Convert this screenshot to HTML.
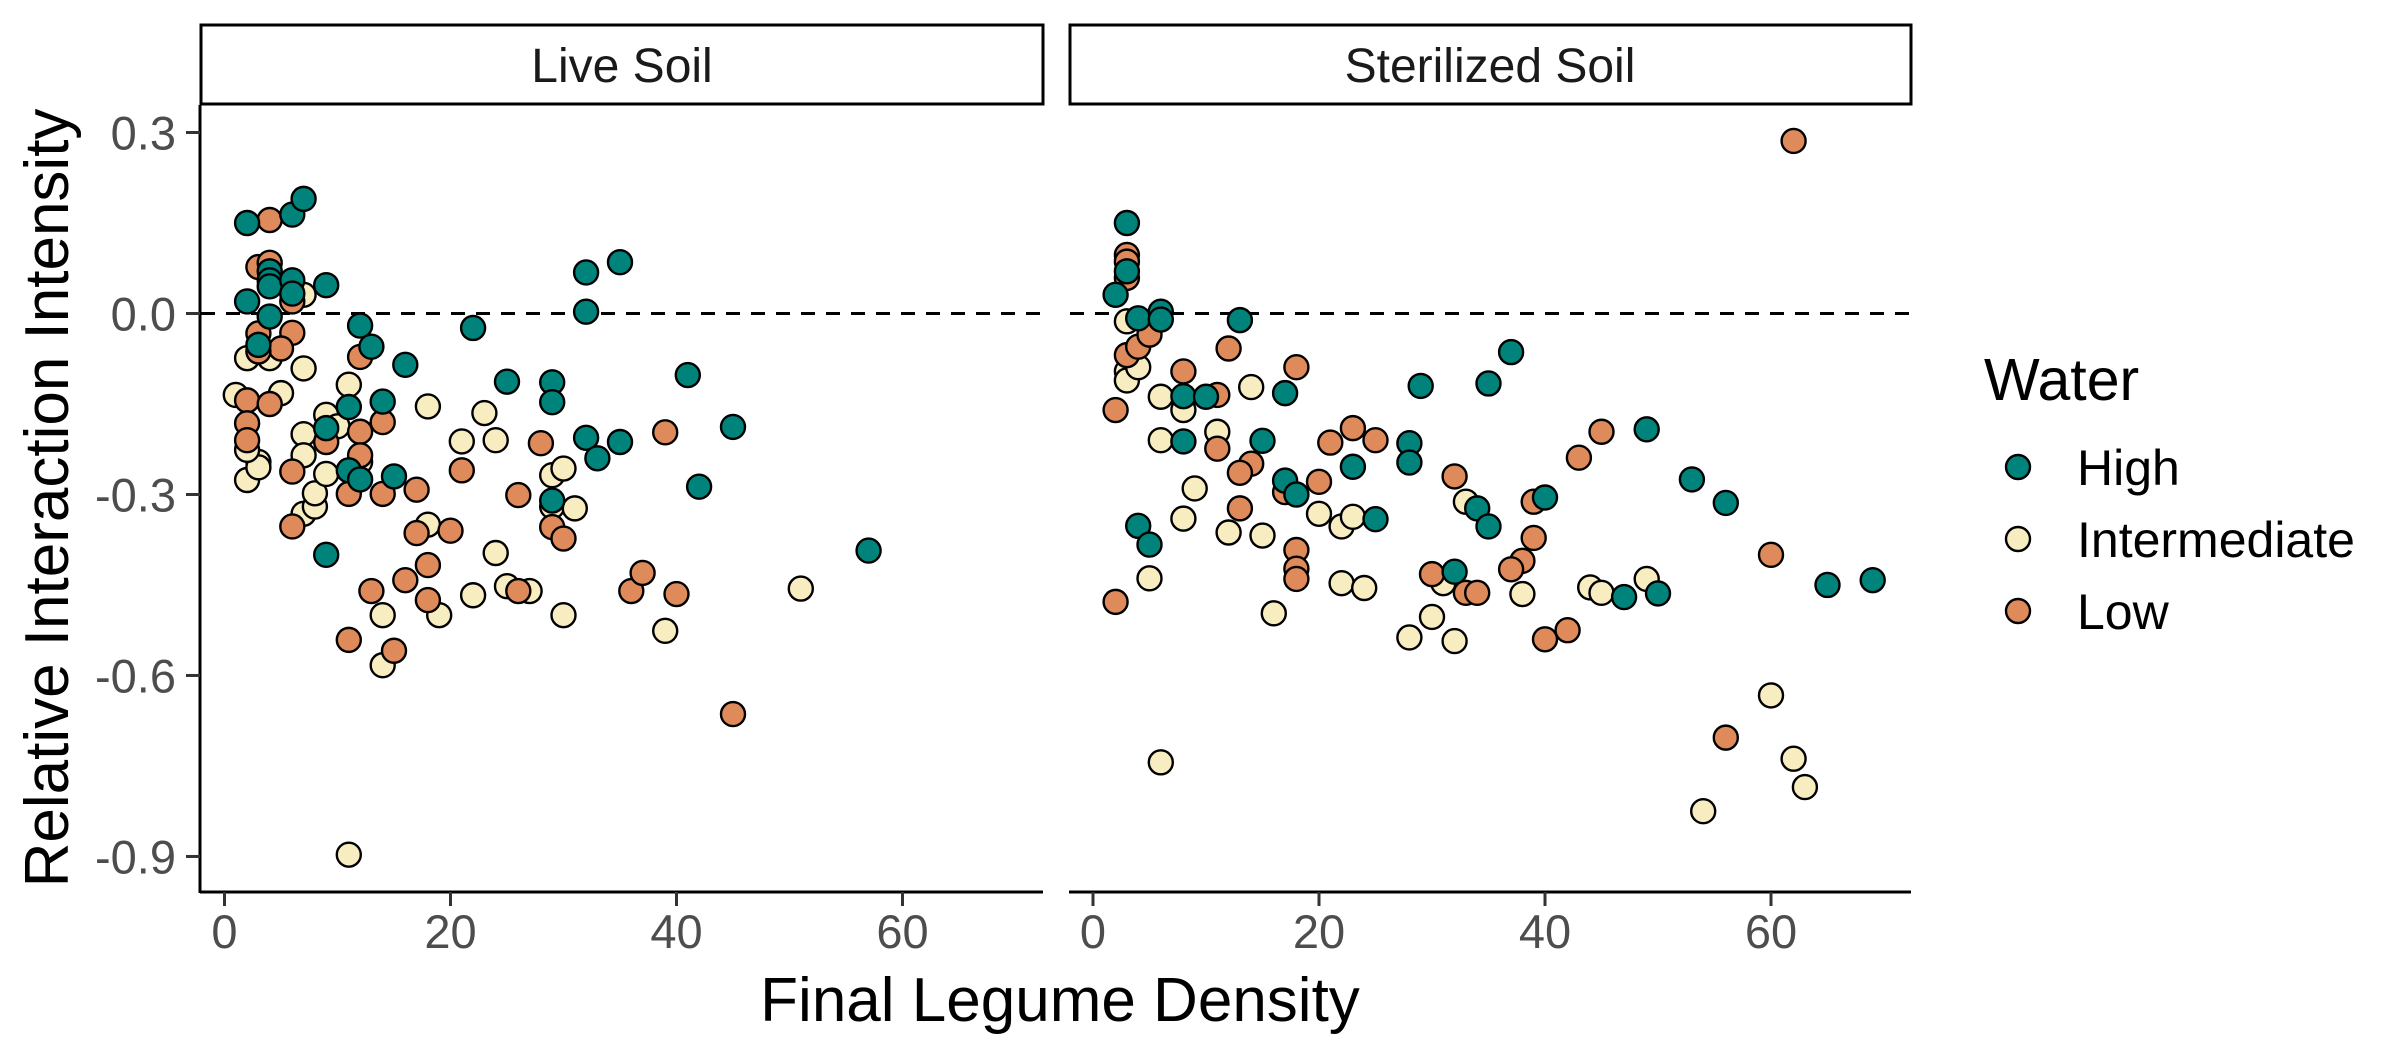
<!DOCTYPE html>
<html><head><meta charset="utf-8">
<style>
html,body{margin:0;padding:0;background:#fff;}
svg{display:block;font-family:"Liberation Sans",Arial,sans-serif;}
</style></head>
<body>
<svg id="chart" width="2400" height="1050" viewBox="0 0 2400 1050" xmlns="http://www.w3.org/2000/svg">
  <rect x="0" y="0" width="2400" height="1050" fill="#fff"/>
  <g>
    <rect x="201" y="25" width="842" height="79" fill="#fff" stroke="#000" stroke-width="3"/>
    <text x="622" y="82" font-size="48" text-anchor="middle" fill="#1a1a1a">Live Soil</text>
  </g>
  <g>
    <rect x="1070" y="25" width="841" height="79" fill="#fff" stroke="#000" stroke-width="3"/>
    <text x="1490" y="82" font-size="48" text-anchor="middle" fill="#1a1a1a">Sterilized Soil</text>
  </g>
  <g id="axes"></g>
  <g id="points"></g>
  <text transform="translate(68,498) rotate(-90)" font-size="62" text-anchor="middle" fill="#000">Relative Interaction Intensity</text>
  <text x="1060" y="1021" font-size="62" text-anchor="middle" fill="#000">Final Legume Density</text>
  <g>
    <text x="1984" y="400" font-size="59" fill="#000">Water</text>
    <g id="legend-keys"></g>
  </g>
</svg>
<script>
const categories = ["High","Intermediate","Low"];
const colors = ["#00837B","#F8EDC0","#DE8A5A"];
const yTicks = [0.3,0.0,-0.3,-0.6,-0.9];
const yTickLabels = ["0.3","0.0","-0.3","-0.6","-0.9"];
const xTicks = [0,20,40,60];
const xTickLabels = ["0","20","40","60"];

const liveHighX = [2,6,7,2,4,4,4,4,6,6,9,3,12,13,16,22,25,29,29,32,32,35,32,35,33,41,45,42,57,9,11,11,12,14,15,9,29];
const liveHighY = [0.15,0.164,0.19,0.02,0.07,0.055,0.045,-0.005,0.055,0.033,0.047,-0.052,-0.02,-0.055,-0.085,-0.024,-0.113,-0.114,-0.147,0.068,0.003,0.085,-0.206,-0.213,-0.24,-0.102,-0.188,-0.287,-0.393,-0.40,-0.155,-0.26,-0.275,-0.146,-0.27,-0.19,-0.31];
const liveLowX = [4,3,4,6,6,3,5,3,2,4,2,2,6,6,9,12,12,12,14,11,14,17,17,20,18,18,16,13,11,15,21,26,28,29,30,39,36,37,40,45,26];
const liveLowY = [0.155,0.077,0.084,0.02,-0.032,-0.033,-0.058,-0.063,-0.144,-0.15,-0.182,-0.21,-0.262,-0.353,-0.213,-0.072,-0.196,-0.235,-0.18,-0.299,-0.299,-0.292,-0.364,-0.36,-0.417,-0.475,-0.442,-0.46,-0.541,-0.559,-0.26,-0.301,-0.215,-0.354,-0.373,-0.197,-0.46,-0.43,-0.465,-0.664,-0.46];
const liveMidX = [1,2,4,2,3,3,2,5,7,7,7,7,7,8,8,9,9,10,11,12,18,18,19,14,14,11,21,23,24,24,22,25,27,29,30,29,31,30,39,51];
const liveMidY = [-0.135,-0.074,-0.074,-0.276,-0.246,-0.255,-0.226,-0.132,-0.091,0.031,-0.2,-0.235,-0.332,-0.32,-0.298,-0.168,-0.266,-0.187,-0.118,-0.246,-0.154,-0.35,-0.5,-0.5,-0.583,-0.897,-0.212,-0.165,-0.21,-0.397,-0.467,-0.452,-0.46,-0.268,-0.257,-0.32,-0.323,-0.5,-0.526,-0.456];

const sterHighX = [3,2,3,4,6,6,13,8,10,8,17,15,17,18,23,25,28,28,29,35,37,34,35,40,32,47,50,49,53,56,65,69,4,5];
const sterHighY = [0.15,0.031,0.07,-0.008,0.003,-0.01,-0.011,-0.137,-0.138,-0.212,-0.132,-0.211,-0.277,-0.3,-0.254,-0.341,-0.215,-0.247,-0.12,-0.116,-0.064,-0.323,-0.353,-0.305,-0.428,-0.47,-0.464,-0.192,-0.275,-0.314,-0.45,-0.442,-0.352,-0.383];
const sterLowX = [62,3,3,3,3,4,5,2,2,8,11,11,12,18,14,13,13,17,20,21,23,25,18,18,18,32,30,33,34,39,39,38,37,40,42,43,45,60,56];
const sterLowY = [0.286,0.097,0.086,0.059,-0.069,-0.055,-0.035,-0.16,-0.478,-0.096,-0.135,-0.224,-0.058,-0.089,-0.249,-0.264,-0.323,-0.296,-0.279,-0.214,-0.19,-0.21,-0.392,-0.423,-0.44,-0.27,-0.432,-0.463,-0.463,-0.312,-0.372,-0.41,-0.424,-0.54,-0.525,-0.239,-0.196,-0.4,-0.703];
const sterMidX = [3,3,3,4,6,6,8,11,14,9,8,12,15,5,6,16,20,22,23,22,24,31,33,28,30,32,38,44,45,49,60,62,63,54];
const sterMidY = [-0.013,-0.096,-0.111,-0.089,-0.138,-0.21,-0.16,-0.196,-0.122,-0.29,-0.34,-0.363,-0.368,-0.439,-0.744,-0.497,-0.332,-0.353,-0.337,-0.447,-0.455,-0.447,-0.312,-0.537,-0.503,-0.543,-0.465,-0.454,-0.463,-0.44,-0.633,-0.738,-0.785,-0.825];

const NS="http://www.w3.org/2000/svg";
function y(v){return 313.5 - v*603.3;}
function xLive(v){return 224.5 + v*11.3;}
function xSter(v){return 1093 + v*11.3;}
function mk(tag,attrs,parent){const e=document.createElementNS(NS,tag);for(const k in attrs)e.setAttribute(k,attrs[k]);parent.appendChild(e);return e;}

const axes=document.getElementById('axes');
[[201,1043],[1070,1911]].forEach(function(r,i){
  const l=mk('line',{x1:r[0],x2:r[1],y1:y(0),y2:y(0),stroke:'#000','stroke-width':3,'stroke-dasharray':'14 11'},axes);
  
  
});
const yl=mk('line',{x1:200,x2:200,y1:105,y2:893,stroke:'#000','stroke-width':3},axes);


yTicks.forEach(function(t,i){
  mk('line',{x1:186,x2:200,y1:y(t),y2:y(t),stroke:'#333','stroke-width':3},axes);
  const tx=mk('text',{x:176,y:y(t)+17,'font-size':47,'text-anchor':'end',fill:'#4d4d4d'},axes);
  tx.textContent=yTickLabels[i];
  
  
});
[[201,1043,xLive],[1070,1911,xSter]].forEach(function(p,pi){
  const al=mk('line',{x1:p[0]-1,x2:p[1],y1:892,y2:892,stroke:'#000','stroke-width':3},axes);
  
  
  xTicks.forEach(function(t,i){
    mk('line',{x1:p[2](t),x2:p[2](t),y1:892,y2:906,stroke:'#333','stroke-width':3},axes);
    const tx=mk('text',{x:p[2](t),y:948,'font-size':47,'text-anchor':'middle',fill:'#4d4d4d'},axes);
    tx.textContent=xTickLabels[i];
    
    
  });
});

const pts=document.getElementById('points');
const series=[
  [liveMidX,liveMidY,1,xLive],[liveLowX,liveLowY,2,xLive],[liveHighX,liveHighY,0,xLive],
  [sterMidX,sterMidY,1,xSter],[sterLowX,sterLowY,2,xSter],[sterHighX,sterHighY,0,xSter]
];
series.forEach(function(s){
  s[0].forEach(function(xv,i){
    const c=mk('circle',{cx:s[3](xv),cy:y(s[1][i]),r:12,fill:colors[s[2]],stroke:'#000','stroke-width':2.4},pts);
    
    
  });
});

const lk=document.getElementById('legend-keys');
const keyY=[467,539,611];
categories.forEach(function(cat,i){
  const c=mk('circle',{cx:2018,cy:keyY[i],r:12,fill:colors[i],stroke:'#000','stroke-width':2.4},lk);
  
  
  const t=mk('text',{x:2077,y:keyY[i]+18,'font-size':50,fill:'#000'},lk);
  t.textContent=cat;
  
  
});
</script>
</body></html>
